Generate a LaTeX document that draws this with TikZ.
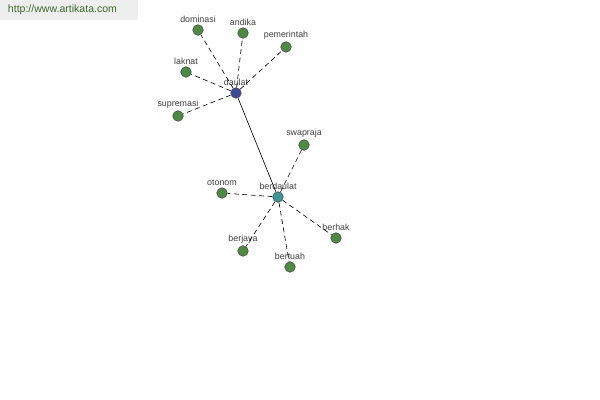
\documentclass[tikz,border=0pt]{standalone}
\usepackage{fontspec}
\setmainfont{Liberation Sans}
\definecolor{leafgreen}{HTML}{4E8A44}
\definecolor{rootblue}{HTML}{3E4A96}
\definecolor{midteal}{HTML}{3E9696}
\definecolor{urlgreen}{HTML}{3C6A2C}
\definecolor{boxgray}{HTML}{EEEEEE}
\tikzset{
  word/.style={circle,draw=black!70,line width=0.4pt,fill=leafgreen,inner sep=0pt,minimum size=7.5pt,
    label={[text=black!75,font=\fontsize{6.3}{7}\selectfont,inner sep=1pt]above:#1}},
  link/.style={dashed,dash pattern=on 3.5pt off 2.5pt,line width=0.45pt},
}
\begin{document}
\begin{tikzpicture}[x=0.025cm,y=-0.025cm]
\useasboundingbox[fill=white] (0,0) rectangle (600,400);
\fill[boxgray] (0,0) rectangle (138,20);
\node[text=urlgreen,font=\fontsize{7.5}{8}\selectfont,anchor=west] (url) at (3,10) {http://www.artikata.com};
\node[word=daulat,fill=rootblue] (daulat) at (236,93) {};
\node[word=berdaulat,fill=midteal] (berdaulat) at (278,197) {};
\node[word=dominasi] (dominasi) at (198,30) {};
\node[word=andika] (andika) at (243,33) {};
\node[word=pemerintah] (pemerintah) at (286,47) {};
\node[word=laknat] (laknat) at (186,72) {};
\node[word=supremasi] (supremasi) at (178,116) {};
\node[word=swapraja] (swapraja) at (304,145) {};
\node[word=otonom] (otonom) at (222,193) {};
\node[word=berhak] (berhak) at (336,238) {};
\node[word=berjaya] (berjaya) at (243,251) {};
\node[word=bertuah] (bertuah) at (290,267) {};
\draw[line width=0.45pt] (daulat) -- (berdaulat);
\foreach \w in {dominasi,andika,pemerintah,laknat,supremasi}
  \draw[link] (daulat) -- (\w);
\foreach \w in {swapraja,otonom,berhak,berjaya,bertuah}
  \draw[link] (berdaulat) -- (\w);
\end{tikzpicture}
\end{document}
